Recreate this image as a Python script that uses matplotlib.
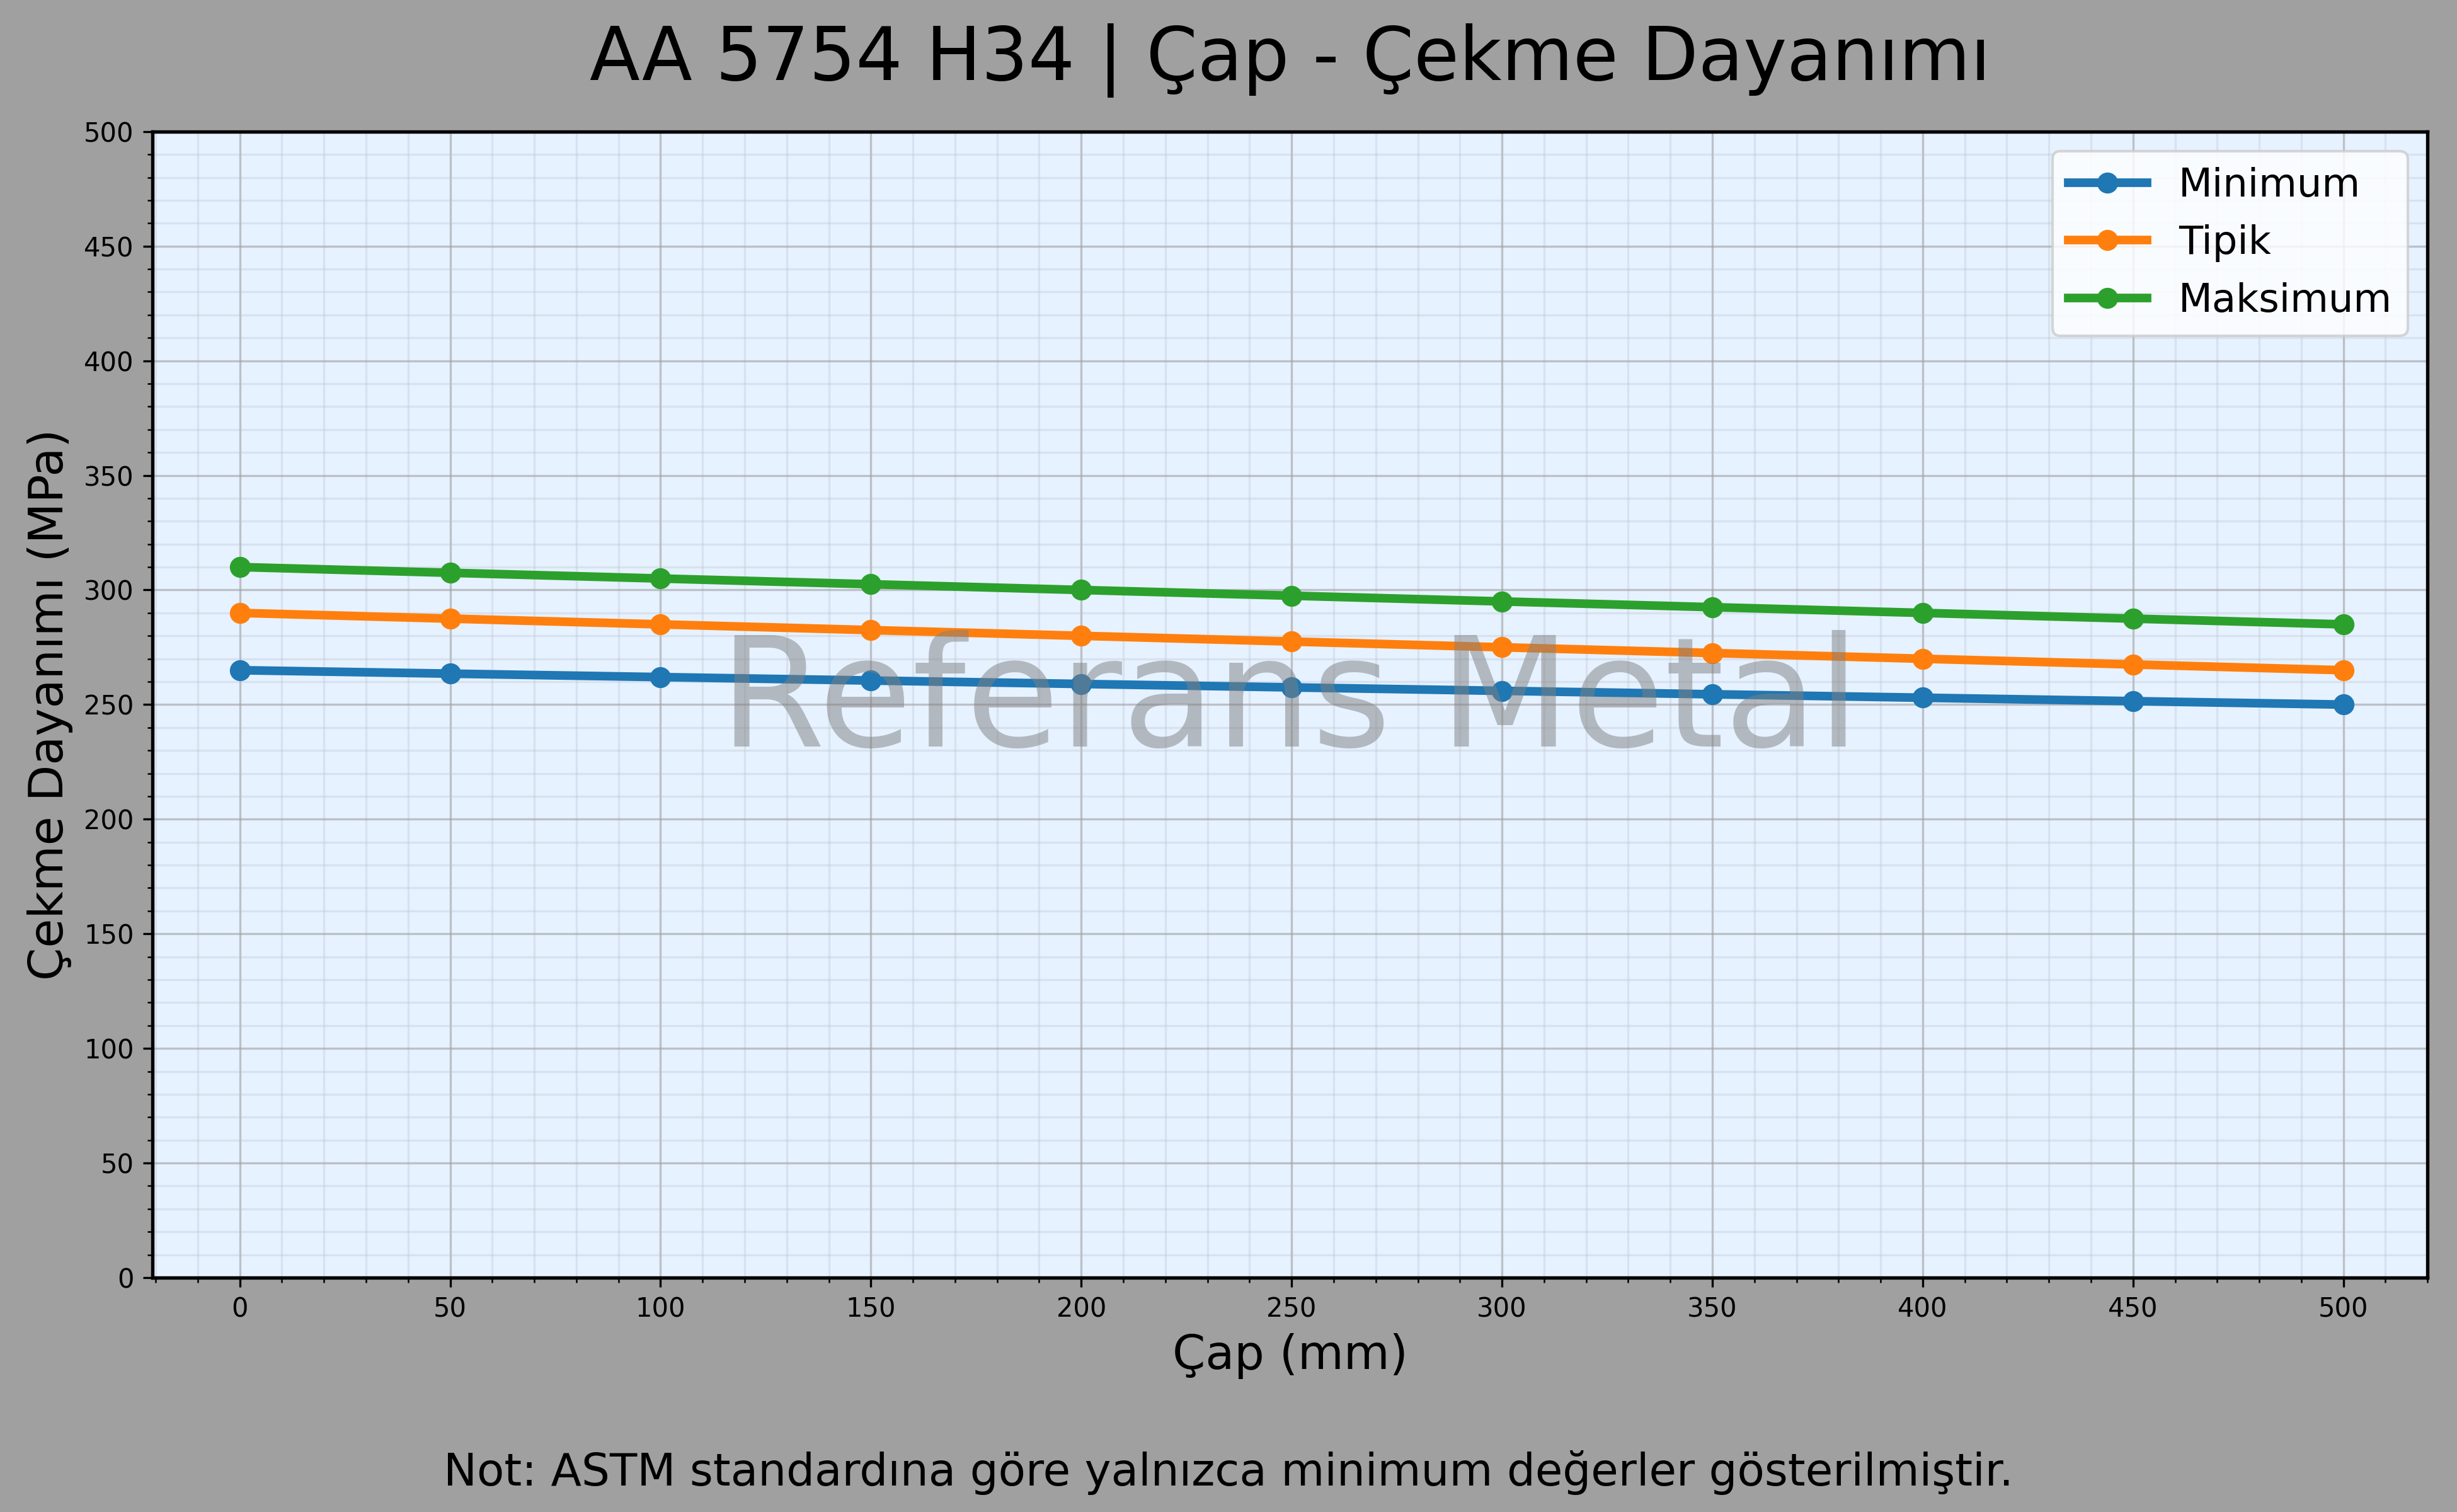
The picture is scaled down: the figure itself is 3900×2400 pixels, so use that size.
import numpy as np
import matplotlib
matplotlib.use("Agg")
import matplotlib.pyplot as plt
from matplotlib.ticker import MultipleLocator

# data
cap = [0, 50, 100, 150, 200, 250, 300, 350, 400, 450, 500]
minimum = [265, 263.5, 262, 260.5, 259, 257.5, 256, 254.5, 253, 251.5, 250]
tipik = [290, 287.5, 285, 282.5, 280, 277.5, 275, 272.5, 270, 267.5, 265]
maksimum = [310, 307.5, 305, 302.5, 300, 297.5, 295, 292.5, 290, 287.5, 285]

fig = plt.figure(figsize=(13, 8), dpi=300, facecolor='#a0a0a0')
ax = fig.add_axes([0.062, 0.155, 0.926, 0.758])
ax.set_facecolor('#e6f2ff')

ax.plot(cap, minimum, '-o', color='#1f77b4', lw=3.3, ms=7, label='Minimum')
ax.plot(cap, tipik, '-o', color='#ff7f0e', lw=3.3, ms=7, label='Tipik')
ax.plot(cap, maksimum, '-o', color='#2ca02c', lw=3.3, ms=7, label='Maksimum')

ax.set_ylim(0, 500)
ax.set_xlim(-20.8, 520)
ax.xaxis.set_major_locator(MultipleLocator(50))
ax.yaxis.set_major_locator(MultipleLocator(50))
ax.xaxis.set_minor_locator(MultipleLocator(10))
ax.yaxis.set_minor_locator(MultipleLocator(10))
ax.grid(True, which='major', color='#a0a0a0', alpha=0.6, lw=0.8)
ax.grid(True, which='minor', color='#b8c0cc', alpha=0.3, lw=0.8)
ax.tick_params(labelsize=10)
for s in ax.spines.values():
    s.set_linewidth(1.3)

ax.set_xlabel('Çap (mm)', fontsize=18)
ax.set_ylabel('Çekme Dayanımı (MPa)', fontsize=18)
fig.text(0.525, 0.96, 'AA 5754 H34 | Çap - Çekme Dayanımı', fontsize=28,
         ha='center', va='center')

ax.text(0.5, 0.5, 'Referans Metal', transform=ax.transAxes, fontsize=58,
        color='gray', alpha=0.5, ha='center', va='center', zorder=10)

ax.legend(loc='upper right', fontsize=15)

fig.text(0.5, 0.026, 'Not: ASTM standardına göre yalnızca minimum değerler gösterilmiştir.',
         ha='center', va='center', fontsize=17)

fig.savefig('out.png', dpi=300, facecolor=fig.get_facecolor())
